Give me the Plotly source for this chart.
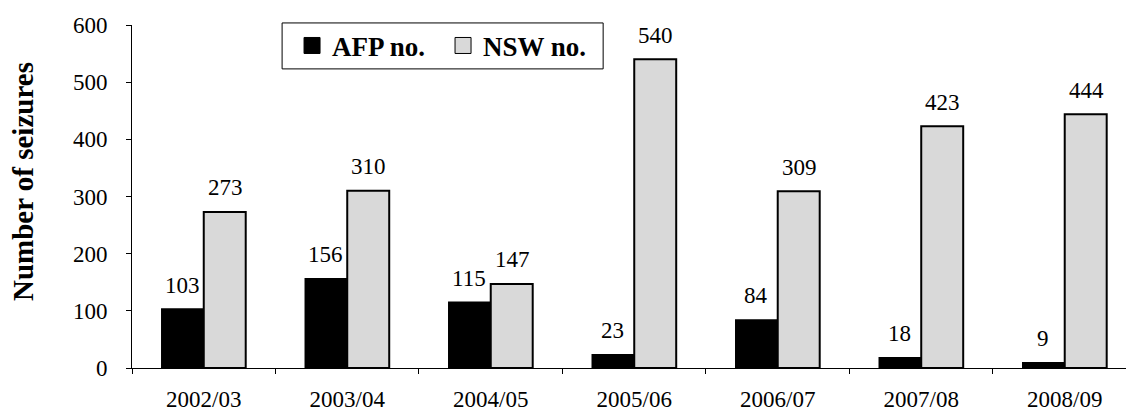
import plotly.graph_objects as go

# Seizure counts by financial year
years = ["2002/03", "2003/04", "2004/05", "2005/06", "2006/07", "2007/08", "2008/09"]
afp_no = [103, 156, 115, 23, 84, 18, 9]
nsw_no = [273, 310, 147, 540, 309, 423, 444]

y_ticks = [0, 100, 200, 300, 400, 500, 600]

FONT = "Liberation Serif"
AFP_COLOR = "#000000"
NSW_COLOR = "#d9d9d9"

fig = go.Figure()

fig.add_trace(go.Bar(
    x=years, y=afp_no, name="AFP no.",
    marker=dict(color=AFP_COLOR, line=dict(color="#000000", width=1.5)),
    showlegend=False,
))
fig.add_trace(go.Bar(
    x=years, y=nsw_no, name="NSW no.",
    marker=dict(color=NSW_COLOR, line=dict(color="#000000", width=2)),
    showlegend=False,
))

# Legend entries drawn as square swatches
for name, color in [("AFP no.", AFP_COLOR), ("NSW no.", NSW_COLOR)]:
    fig.add_trace(go.Scatter(
        x=[None], y=[None], mode="markers", name=name,
        marker=dict(symbol="square", size=16, color=color,
                    line=dict(color="#000000", width=1)),
    ))

# Value labels above each bar
for i, yr in enumerate(years):
    for val, shift in [(afp_no[i], -21.5), (nsw_no[i], 21.5)]:
        fig.add_annotation(
            x=yr, y=val, text=str(val), showarrow=False,
            xshift=shift, yshift=24, yanchor="middle",
            font=dict(family=FONT, size=23, color="#000000"),
        )

# Y-axis title
fig.add_annotation(
    xref="paper", yref="paper", x=-0.1097, y=0.545,
    text="<b>Number of seizures</b>", textangle=-90, showarrow=False,
    xanchor="center", yanchor="middle",
    font=dict(family=FONT, size=29, color="#000000"),
)

# Frame around the legend
fig.add_shape(
    type="rect", xref="paper", yref="paper",
    x0=0.151, x1=0.474, y0=0.872, y1=1.006,
    line=dict(color="#000000", width=1), fillcolor="rgba(0,0,0,0)",
)

fig.update_layout(
    width=1126, height=414,
    margin=dict(l=132, r=0, t=25, b=46),
    paper_bgcolor="white", plot_bgcolor="white",
    barmode="group", bargap=0.415, bargroupgap=0,
    font=dict(family=FONT, size=23, color="#000000"),
    legend=dict(
        orientation="h", x=0.161, y=0.939, xanchor="left", yanchor="middle",
        borderwidth=0, bgcolor="rgba(0,0,0,0)",
        font=dict(family=FONT, size=27, color="#000000", weight="bold"),
        itemsizing="trace", entrywidth=106, entrywidthmode="pixels",
    ),
    xaxis=dict(
        type="category", range=[-0.5, 6.427], automargin=False,
        showline=True, linecolor="#000000", linewidth=1,
        ticks="outside", ticklen=5, tickcolor="#000000", tickson="boundaries",
        showgrid=False, ticklabelstandoff=10,
        tickfont=dict(family=FONT, size=23),
    ),
    yaxis=dict(
        range=[0, 600], tickvals=y_ticks, automargin=False,
        showline=True, linecolor="#000000", linewidth=1,
        ticks="outside", ticklen=5, tickcolor="#000000",
        showgrid=False, zeroline=False, ticklabelstandoff=14,
        tickfont=dict(family=FONT, size=23),
    ),
)

fig.write_html("out.html")
